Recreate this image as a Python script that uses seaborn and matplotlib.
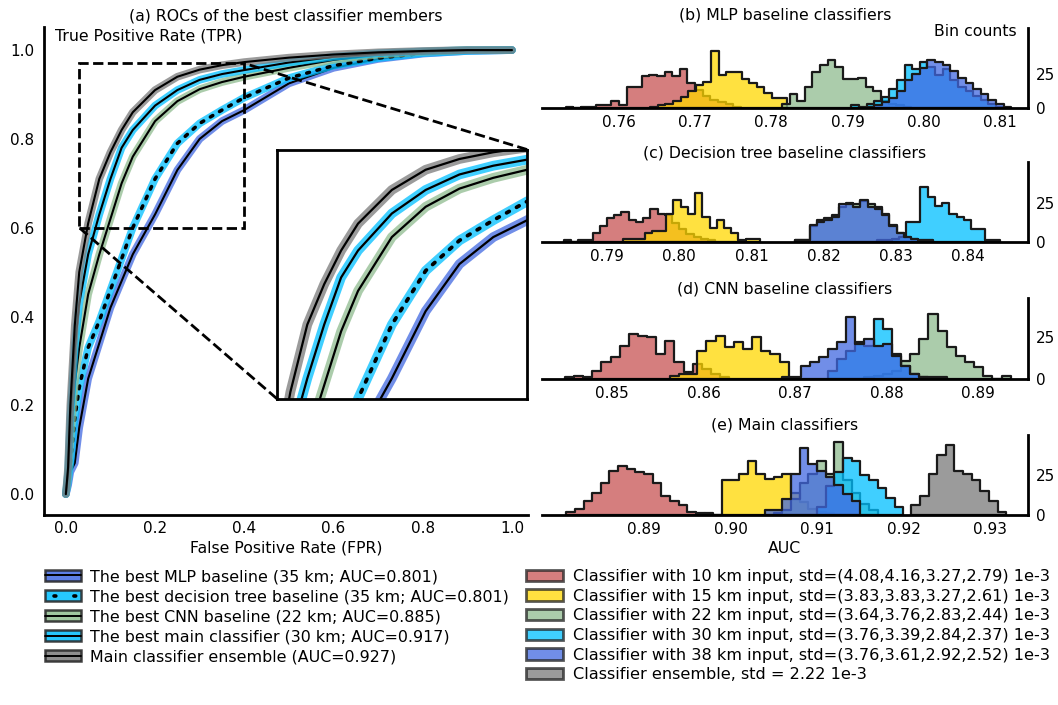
"""
Recreated figure: ROCs of the best classifiers (a) and AUC histograms (b)-(e).
"""
import numpy as np
import pandas as pd
import matplotlib
matplotlib.use("Agg")
import matplotlib.pyplot as plt
import seaborn as sns
from matplotlib.lines import Line2D
from matplotlib.patches import Patch
from matplotlib.legend_handler import HandlerTuple
from mpl_toolkits.axes_grid1.inset_locator import mark_inset

sns.set_style("white")
plt.rcParams["font.family"] = ["DejaVu Sans"]
plt.rcParams["font.size"] = 11
for key in ["text.color", "axes.labelcolor", "xtick.color", "ytick.color"]:
    plt.rcParams[key] = "black"

# ---- (a) ROC curves ----
FPR          = [0, 0.005, 0.01, 0.02, 0.03, 0.05, 0.075, 0.1, 0.125, 0.15, 0.2,
                0.25, 0.3, 0.35, 0.4, 0.5, 0.6, 0.7, 0.8, 0.9, 1.0]
TPR_MLP      = [0, 0.02, 0.05, 0.07, 0.15, 0.26, 0.34, 0.42, 0.48, 0.54, 0.63,
                0.73, 0.80, 0.84, 0.865, 0.925, 0.96, 0.98, 0.992, 0.998, 1.0]
TPR_TREE     = [0, 0.03, 0.07, 0.17, 0.24, 0.33, 0.39, 0.46, 0.53, 0.60, 0.71,
                0.79, 0.835, 0.865, 0.893, 0.937, 0.965, 0.982, 0.993, 0.998, 1.0]
TPR_CNN      = [0, 0.04, 0.12, 0.25, 0.33, 0.45, 0.54, 0.62, 0.70, 0.76, 0.84,
                0.885, 0.912, 0.928, 0.94, 0.96, 0.978, 0.99, 0.996, 1.0, 1.0]
TPR_MAIN     = [0, 0.05, 0.17, 0.33, 0.43, 0.54, 0.63, 0.71, 0.78, 0.82, 0.875,
                0.91, 0.933, 0.946, 0.955, 0.972, 0.985, 0.993, 0.997, 1.0, 1.0]
TPR_ENSEMBLE = [0, 0.06, 0.20, 0.38, 0.50, 0.61, 0.71, 0.77, 0.82, 0.86, 0.91,
                0.94, 0.956, 0.966, 0.973, 0.983, 0.99, 0.995, 0.998, 1.0, 1.0]

ROC_LABELS = [
    "The best MLP baseline (35 km; AUC=0.801)",
    "The best decision tree baseline (35 km; AUC=0.801)",
    "The best CNN baseline (22 km; AUC=0.885)",
    "The best main classifier (30 km; AUC=0.917)",
    "Main classifier ensemble (AUC=0.927)",
]

# ---- (b)-(e) AUC histograms: first bin edge + counts per 0.001 bin ----
BIN_W = 0.001

MLP_STARTS = [0.7530, 0.7641, 0.7814, 0.7905, 0.7925]
MLP_10 = [1, 0, 1, 1, 2, 2, 5, 2, 15, 15, 23, 24, 23, 26, 23, 28, 18, 13, 9, 6, 4, 3, 1]
MLP_15 = [1, 2, 3, 5, 8, 12, 17, 19, 41, 24, 26, 26, 21, 18, 15, 11, 7, 7]
MLP_22 = [3, 10, 5, 15, 26, 31, 35, 30, 21, 21, 22, 15, 12, 5, 3, 2, 1]
MLP_30 = [2, 1, 3, 5, 8, 14, 20, 31, 28, 33, 30, 24, 28, 20, 15, 12, 9, 6, 3, 1]
MLP_38 = [1, 2, 4, 7, 12, 20, 25, 29, 35, 33, 31, 27, 22, 18, 14, 10, 6, 3, 1]

TREE_STARTS = [0.7840, 0.7922, 0.8161, 0.8274, 0.8161]
TREE_10 = [1, 0, 1, 1, 6, 10, 15, 17, 19, 14, 13, 15, 21, 18, 17, 12, 8, 5, 3, 2, 1]
TREE_15 = [2, 2, 2, 6, 7, 7, 18, 27, 22, 18, 31, 16, 9, 14, 9, 6, 1, 2, 2]
TREE_22 = [1, 1, 10, 14, 15, 17, 22, 25, 24, 26, 24, 22, 18, 11, 6, 3, 2, 1, 1]
TREE_30 = [1, 1, 2, 3, 13, 13, 35, 29, 23, 25, 18, 16, 14, 8, 8, 1, 1]
TREE_38 = [1, 1, 11, 13, 14, 16, 24, 24, 22, 27, 22, 21, 17, 10, 6, 3, 2, 1, 1]

CNN_STARTS = [0.8448, 0.8563, 0.8776, 0.8736, 0.8686]
CNN_10 = [1, 2, 1, 5, 10, 13, 20, 27, 26, 25, 15, 23, 10, 4, 9, 6, 3, 1]
CNN_15 = [2, 3, 3, 17, 23, 26, 19, 22, 18, 25, 17, 15, 10]
CNN_22 = [1, 2, 3, 5, 11, 15, 24, 39, 29, 19, 14, 10, 7, 2, 0, 2]
CNN_30 = [5, 12, 17, 22, 20, 36, 30, 15, 8, 3, 1, 1, 1]
CNN_38 = [1, 1, 8, 10, 13, 18, 22, 37, 21, 24, 20, 21, 14, 8, 3, 1]

MAIN_STARTS = [0.8810, 0.8970, 0.9050, 0.9100, 0.9040]
MAIN_10 = [2, 4, 9, 14, 20, 28, 31, 29, 27, 26, 20, 12, 9, 6, 2, 1]
MAIN_15 = [1, 0, 22, 22, 26, 34, 26, 23, 24, 26, 14, 8, 4, 2, 1]
MAIN_22 = [1, 3, 10, 20, 26, 34, 26, 46, 22, 14, 7, 3]
MAIN_30 = [5, 18, 27, 36, 34, 25, 22, 17, 11, 5]
MAIN_38 = [3, 3, 10, 26, 42, 32, 28, 24, 19, 13, 9]
ENSEMBLE_START = 0.9209
ENSEMBLE = [6, 12, 26, 38, 44, 28, 26, 22, 15, 9, 2]

HIST_LABELS = [
    "Classifier with 10 km input, std=(4.08,4.16,3.27,2.79) 1e-3",
    "Classifier with 15 km input, std=(3.83,3.83,3.27,2.61) 1e-3",
    "Classifier with 22 km input, std=(3.64,3.76,2.83,2.44) 1e-3",
    "Classifier with 30 km input, std=(3.76,3.39,2.84,2.37) 1e-3",
    "Classifier with 38 km input, std=(3.76,3.61,2.92,2.52) 1e-3",
    "Classifier ensemble, std = 2.22 1e-3",
]

RED, YELLOW, GREEN = "#C85353", "#FFD700", "#8FBC8F"
CYAN, BLUE, GRAY = "#00BFFF", "#4169E1", "#7A7A7A"
HIST_COLORS = [RED, YELLOW, GREEN, CYAN, BLUE, GRAY]

W, H = 1058, 705
fig = plt.figure(figsize=(W / 100, H / 100), dpi=100)


def px_box(left, top, right, bottom):
    return [left / W, 1 - bottom / H, (right - left) / W, (bottom - top) / H]


# ---------------- (a) ROC panel ----------------
roc_curves = [
    (TPR_MLP, BLUE, "-"),
    (TPR_TREE, CYAN, (0, (0.8, 2.2))),
    (TPR_CNN, GREEN, "-"),
    (TPR_MAIN, CYAN, "-"),
    (TPR_ENSEMBLE, GRAY, "-"),
]


def draw_rocs(ax, band_lw, line_lw):
    for tpr, color, ls in roc_curves:
        sns.lineplot(x=FPR, y=tpr, ax=ax, color=color, lw=band_lw, alpha=0.75,
                     sort=False, estimator=None, solid_capstyle="round")
        if ls == "-":
            sns.lineplot(x=FPR, y=tpr, ax=ax, color="k", lw=line_lw,
                         sort=False, estimator=None)
        else:
            sns.lineplot(x=FPR, y=tpr, ax=ax, color="k", lw=line_lw * 1.7,
                         linestyle=ls, sort=False, estimator=None,
                         dash_capstyle="round")


ax = fig.add_axes(px_box(44, 27, 528, 515))
draw_rocs(ax, 5.5, 1.5)
ax.set_xlim(-0.049, 1.036)
ax.set_ylim(-0.047, 1.052)
ax.set_xticks([0, 0.2, 0.4, 0.6, 0.8, 1.0])
ax.set_yticks([0, 0.2, 0.4, 0.6, 0.8, 1.0])
ax.tick_params(length=0, labelsize=11, pad=4.5)
ax.tick_params(axis="y", pad=7)
for side in ["top", "right"]:
    ax.spines[side].set_visible(False)
for side in ["left", "bottom"]:
    ax.spines[side].set_linewidth(2)
    ax.spines[side].set_color("k")
ax.set_xlabel("False Positive Rate (FPR)", fontsize=11.3, labelpad=3)
ax.set_ylabel("")
ax.set_title("(a) ROCs of the best classifier members", fontsize=11.3, pad=5)
ax.text(0.023, 0.982, "True Positive Rate (TPR)", transform=ax.transAxes,
        ha="left", va="center", fontsize=11.3)

axins = ax.inset_axes([0.473, 0.215, 0.561, 0.561], transform=ax.transData)
draw_rocs(axins, 7, 1.6)
axins.set_xlim(0.03, 0.40)
axins.set_ylim(0.60, 0.97)
axins.set_xticks([])
axins.set_yticks([])
axins.set_xlabel("")
axins.set_ylabel("")
axins.set_facecolor("white")
for side in axins.spines.values():
    side.set_visible(True)
    side.set_linewidth(2)
    side.set_color("k")
mark_inset(ax, axins, loc1=1, loc2=3, fc="none", ec="k", lw=2, ls="--", zorder=5)

# ---------------- (b)-(e) histograms ----------------
panels = [
    ("(b) MLP baseline classifiers", MLP_STARTS,
     [MLP_10, MLP_15, MLP_22, MLP_30, MLP_38], (0.7499, 0.8137), 58, 28, 108,
     [0.76, 0.77, 0.78, 0.79, 0.80, 0.81], 6),
    ("(c) Decision tree baseline classifiers", TREE_STARTS,
     [TREE_10, TREE_15, TREE_22, TREE_30, TREE_38], (0.7810, 0.8483), 51, 162, 242,
     [0.79, 0.80, 0.81, 0.82, 0.83, 0.84], 3),
    ("(d) CNN baseline classifiers", CNN_STARTS,
     [CNN_10, CNN_15, CNN_22, CNN_30, CNN_38], (0.8423, 0.8955), 48.5, 298, 379,
     [0.85, 0.86, 0.87, 0.88, 0.89], 3),
    ("(e) Main classifiers", MAIN_STARTS + [ENSEMBLE_START],
     [MAIN_10, MAIN_15, MAIN_22, MAIN_30, MAIN_38, ENSEMBLE], (0.8782, 0.9344), 50.5, 435, 515,
     [0.89, 0.90, 0.91, 0.92, 0.93], 4),
]

for i, (title, starts, series, xlim, ytop, top, bottom, xticks, tpad) in enumerate(panels):
    hax = fig.add_axes(px_box(542, top, 1028, bottom))
    for start, counts, color in zip(starts, series, HIST_COLORS):
        n = len(counts)
        centers = start + BIN_W * (np.arange(n) + 0.5)
        df = pd.DataFrame({"auc": centers, "count": np.asarray(counts, dtype=float)})
        sns.histplot(data=df, x="auc", weights="count", bins=n,
                     binrange=(start, start + n * BIN_W), element="step",
                     fill=True, color=color, alpha=0.75, edgecolor="#1a1a1a",
                     linewidth=1.6, ax=hax)
    hax.set_xlim(*xlim)
    hax.set_ylim(0, ytop)
    hax.set_xticks(xticks)
    hax.set_xticklabels([f"{t:.2f}" for t in xticks])
    hax.set_yticks([0, 25])
    hax.yaxis.tick_right()
    hax.tick_params(length=0, labelsize=11)
    hax.tick_params(axis="x", pad=5)
    hax.tick_params(axis="y", pad=6)
    hax.set_ylabel("")
    hax.set_xlabel("")
    for side in ["top", "left"]:
        hax.spines[side].set_visible(False)
    for side in ["right", "bottom"]:
        hax.spines[side].set_visible(True)
        hax.spines[side].set_linewidth(2)
        hax.spines[side].set_color("k")
    hax.set_title(title, fontsize=11.3, pad=tpad)
    if i == 0:
        hax.text(0.977, 0.96, "Bin counts", transform=hax.transAxes,
                 ha="right", va="center", fontsize=11.3)
    if i == len(panels) - 1:
        hax.set_xlabel("AUC", fontsize=11.3, labelpad=3)

# ---------------- legends ----------------
roc_handles = []
for tpr, color, ls in roc_curves:
    band = Patch(facecolor=color, alpha=0.85, edgecolor="#222222", lw=1.8)
    if ls == "-":
        line = Line2D([], [], color="k", lw=1.4)
    else:
        line = Line2D([], [], color="k", lw=2.6, linestyle=(3, (0.5, 5.0)),
                      dash_capstyle="round")
    roc_handles.append((band, line))

fig.legend(roc_handles, ROC_LABELS, loc="upper left",
           bbox_to_anchor=(45 / W, 1 - 569 / H), frameon=False, fontsize=11.4,
           handler_map={tuple: HandlerTuple(ndivide=1)}, handlelength=2.3,
           handleheight=0.7, handletextpad=0.55, labelspacing=0.32,
           borderpad=0, borderaxespad=0)

hist_handles = [Patch(facecolor=c, alpha=0.75, edgecolor="#222222", lw=2)
                for c in HIST_COLORS]
fig.legend(hist_handles, HIST_LABELS, loc="upper left",
           bbox_to_anchor=(526 / W, 1 - 569 / H), frameon=False, fontsize=11.6,
           handlelength=2.3, handleheight=0.7, handletextpad=0.6,
           labelspacing=0.29, borderpad=0, borderaxespad=0)

fig.savefig("out.png", dpi=100)
